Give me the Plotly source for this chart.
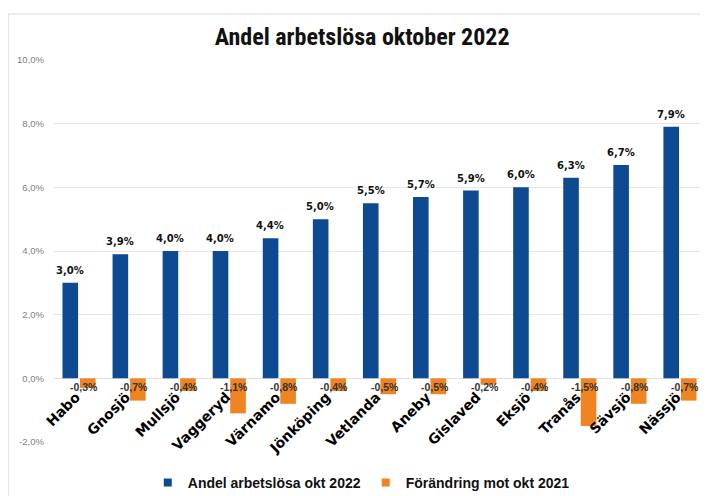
import plotly.graph_objects as go

kommuner = ["Habo", "Gnosjö", "Mullsjö", "Vaggeryd", "Värnamo", "Jönköping", "Vetlanda",
            "Aneby", "Gislaved", "Eksjö", "Tranås", "Sävsjö", "Nässjö"]
andel_2022 = [3.0, 3.9, 4.0, 4.0, 4.4, 5.0, 5.5, 5.7, 5.9, 6.0, 6.3, 6.7, 7.9]
forandring = [-0.3, -0.7, -0.4, -1.1, -0.8, -0.4, -0.5, -0.5, -0.2, -0.4, -1.5, -0.8, -0.7]
y_ticks = [-2, 0, 2, 4, 6, 8, 10]
y_ticktext = ["-2,0%", "0,0%", "2,0%", "4,0%", "6,0%", "8,0%", "10,0%"]
series_names = ["Andel arbetslösa okt 2022", "Förändring mot okt 2021"]

BLUE = "#0E4A92"
ORANGE = "#EF8421"
NARROW = "Liberation Sans Narrow, Roboto Condensed, Liberation Sans, sans-serif"
SANS = "Liberation Sans, Arial, sans-serif"
HEAVY = "DejaVu Sans, sans-serif"


def pct(v):
    return ("%.1f%%" % v).replace(".", ",")


fig = go.Figure()
fig.add_trace(go.Bar(
    x=kommuner, y=andel_2022, name=series_names[0], showlegend=False,
    marker=dict(color=BLUE, line=dict(width=0)),
    textposition="none",
))
fig.add_trace(go.Bar(
    x=kommuner, y=forandring, name=series_names[1], showlegend=False,
    marker=dict(color=ORANGE, line=dict(width=0)),
    textposition="none",
))
# legend entries with small square markers
for nm, col in zip(series_names, [BLUE, ORANGE]):
    fig.add_trace(go.Scatter(
        x=[None], y=[None], mode="markers", name=nm,
        marker=dict(symbol="square", size=8, color=col), showlegend=True,
    ))

# value labels for the blue bars
for k, v in zip(kommuner, andel_2022):
    fig.add_annotation(
        x=k, y=v, xref="x", yref="y", xshift=-9, yshift=5,
        text=pct(v), showarrow=False, xanchor="center", yanchor="bottom",
        font=dict(family=HEAVY, size=10, color="#111111", weight="bold"),
    )

# value labels for the orange bars
for k, v in zip(kommuner, forandring):
    fig.add_annotation(
        x=k, y=0, xref="x", yref="y", xshift=5, yshift=-1,
        text=pct(v), showarrow=False, xanchor="center", yanchor="top",
        font=dict(family=SANS, size=10.5, color="#333333", weight="bold"),
    )

# outer frame
fig.add_shape(type="rect", xref="paper", yref="paper",
              x0=-0.0704, x1=1.2, y0=-0.3, y1=1.1204,
              line=dict(color="#D9D9D9", width=1), fillcolor="rgba(0,0,0,0)", layer="below")

fig.update_layout(
    width=700, height=488,
    margin=dict(l=46, r=3, t=52, b=54, autoexpand=False),
    paper_bgcolor="white", plot_bgcolor="white",
    barmode="group", bargap=0.3, bargroupgap=0.11,
    title=dict(text="Andel arbetslösa oktober 2022", x=0.506, xanchor="center",
               y=0.9406, yanchor="middle",
               font=dict(family=NARROW, size=24, color="#111111", weight="bold")),
    showlegend=True,
    legend=dict(orientation="h", x=0.472, xanchor="center", y=-0.107, yanchor="middle",
                font=dict(family=SANS, size=14, color="#111111", weight="bold"),
                traceorder="normal", itemsizing="trace"),
    xaxis=dict(
        type="category", anchor="free", position=1/6,
        showgrid=False, showline=False, ticks="", zeroline=False,
        tickangle=-45, automargin=False, ticklabelshift=-3, ticklabelstandoff=7,
        tickfont=dict(family=HEAVY, size=14, color="#000000", weight="bold"),
    ),
    yaxis=dict(
        range=[-2, 10], tickvals=y_ticks, ticktext=y_ticktext,
        showgrid=True, gridcolor="#E6E6E6", gridwidth=1,
        zeroline=True, zerolinecolor="#E0E0E0", zerolinewidth=1,
        showline=False, ticks="", automargin=False, ticklabelstandoff=9,
        tickfont=dict(family=SANS, size=9.5, color="#808080"),
    ),
)

fig.write_html("out.html")
